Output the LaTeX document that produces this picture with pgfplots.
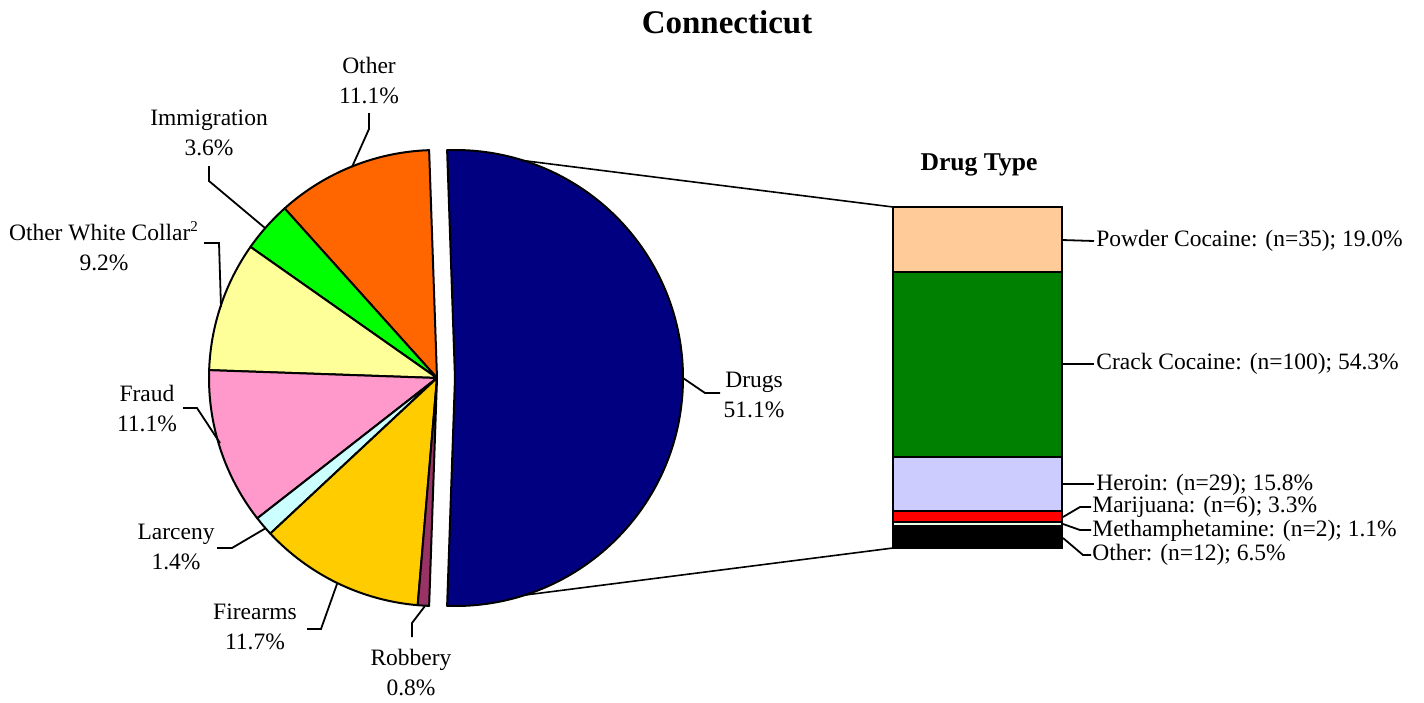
\documentclass[border=0pt]{standalone}
\usepackage{pgfplots}
\pgfplotsset{compat=1.18}
\usepackage{pgfplotstable}
\usepackage{fontspec}
\setmainfont{Liberation Serif}

\definecolor{cDrugs}{RGB}{0,0,128}
\definecolor{cOther}{RGB}{255,102,0}
\definecolor{cImm}{RGB}{0,255,0}
\definecolor{cOWC}{RGB}{255,255,153}
\definecolor{cFraud}{RGB}{255,153,204}
\definecolor{cLarc}{RGB}{204,255,255}
\definecolor{cFire}{RGB}{255,204,0}
\definecolor{cRob}{RGB}{153,51,102}
\definecolor{bPowder}{RGB}{255,204,153}
\definecolor{bCrack}{RGB}{0,128,0}
\definecolor{bHeroin}{RGB}{204,204,255}
\definecolor{bMarij}{RGB}{255,0,0}
\definecolor{bMeth}{RGB}{235,255,235}
\definecolor{bOther}{RGB}{0,0,0}

\pgfplotstableread{
value color
51.1 cDrugs
11.1 cOther
3.6 cImm
9.2 cOWC
11.1 cFraud
1.4 cLarc
11.7 cFire
0.8 cRob
}\pietable

\newcommand\lab{\fontsize{11.75}{15}\selectfont}

\begin{document}
\begin{tikzpicture}
\begin{axis}[name=main, at={(0,0)}, anchor=south west, x=0.5pt, y=0.5pt,
  xmin=0, xmax=1424, ymin=0, ymax=699, y dir=reverse,
  axis lines=none, clip=false]
\path (axis cs:0,0) rectangle (axis cs:1424,699);
% connector lines
\draw[line width=0.8pt] (axis cs:447,151) -- (axis cs:893,207);
\draw[line width=0.8pt] (axis cs:447,605) -- (axis cs:893,548);
% drugs slice (exploded)
\pgfplotstablegetelem{0}{value}\of\pietable
\pgfmathsetmacro\half{\pgfplotsretval*1.8}
\edef\tmp{\noexpand\filldraw[fill=cDrugs,draw=black,line width=1pt,line join=round]
  (axis cs:455,378) -- ([shift={(-\half:114pt)}]axis cs:455,378)
  arc[start angle=-\half, end angle=\half, radius=114pt] -- cycle;}\tmp
\xdef\cur{\half}
\pgfplotsforeachungrouped \i in {1,...,7}{%
  \pgfplotstablegetelem{\i}{value}\of\pietable \let\sliceval=\pgfplotsretval
  \pgfplotstablegetelem{\i}{color}\of\pietable \let\slicecol=\pgfplotsretval
  \pgfmathsetmacro\nxt{\cur+\sliceval*3.6}%
  \edef\tmp{\noexpand\filldraw[fill=\slicecol,draw=black,line width=1pt,line join=round]
    (axis cs:437,378) -- ([shift={(\cur:114pt)}]axis cs:437,378)
    arc[start angle=\cur, end angle=\nxt, radius=114pt] -- cycle;}\tmp
  \xdef\cur{\nxt}%
}
% leader lines
\draw[line width=0.9pt] (axis cs:369,113) -- (axis cs:369,129) -- (axis cs:352,167);
\draw[line width=0.9pt] (axis cs:209,166) -- (axis cs:209,181) -- (axis cs:265,228);
\draw[line width=0.9pt] (axis cs:204,243) -- (axis cs:219,243) -- (axis cs:221,307);
\draw[line width=0.9pt] (axis cs:183,408) -- (axis cs:197,408) -- (axis cs:220,443);
\draw[line width=0.9pt] (axis cs:217,548) -- (axis cs:232,548) -- (axis cs:266,528);
\draw[line width=0.9pt] (axis cs:307,629) -- (axis cs:321,629) -- (axis cs:337,584);
\draw[line width=0.9pt] (axis cs:412,637) -- (axis cs:412,623) -- (axis cs:425,606);
\draw[line width=0.9pt] (axis cs:683,378) -- (axis cs:705,393) -- (axis cs:720,393);
% bar leaders
\draw[line width=0.9pt] (axis cs:1062,240) -- (axis cs:1094,241);
\draw[line width=0.9pt] (axis cs:1062,364) -- (axis cs:1094,364);
\draw[line width=0.9pt] (axis cs:1062,484) -- (axis cs:1094,484);
\draw[line width=0.9pt] (axis cs:1063,517) -- (axis cs:1080,507) -- (axis cs:1091,507);
\draw[line width=0.9pt] (axis cs:1063,524) -- (axis cs:1080,530) -- (axis cs:1091,530);
\draw[line width=0.9pt] (axis cs:1063,538) -- (axis cs:1083,555) -- (axis cs:1091,555);
% pie labels
\node[align=center,font=\lab] at (axis cs:369,81) {Other\\11.1\%};
\node[align=center,font=\lab] at (axis cs:209,133) {Immigration\\3.6\%};
\node[align=center,font=\lab] at (axis cs:104,246) {Other White Collar\textsuperscript{\fontsize{7.5}{8}\selectfont 2}\\9.2\%};
\node[align=center,font=\lab] at (axis cs:147,409) {Fraud\\11.1\%};
\node[align=center,font=\lab] at (axis cs:176,547) {Larceny\\1.4\%};
\node[align=center,font=\lab] at (axis cs:255,627) {Firearms\\11.7\%};
\node[align=center,font=\lab] at (axis cs:411,673) {Robbery\\0.8\%};
\node[align=center,font=\lab] at (axis cs:754,395) {Drugs\\51.1\%};
% bar labels
\node[anchor=west,inner sep=0pt,font=\lab] at (axis cs:1096,241) {Powder Cocaine: (n=35); 19.0\%};
\node[anchor=west,inner sep=0pt,font=\lab] at (axis cs:1096,364) {Crack Cocaine: (n=100); 54.3\%};
\node[anchor=west,inner sep=0pt,font=\lab] at (axis cs:1096,485) {Heroin: (n=29); 15.8\%};
\node[anchor=west,inner sep=0pt,font=\lab] at (axis cs:1092,507) {Marijuana: (n=6); 3.3\%};
\node[anchor=west,inner sep=0pt,font=\lab] at (axis cs:1092,531) {Methamphetamine: (n=2); 1.1\%};
\node[anchor=west,inner sep=0pt,font=\lab] at (axis cs:1092,555) {Other: (n=12); 6.5\%};
% titles
\node[font=\fontsize{16.5}{18}\selectfont\bfseries] at (axis cs:727,22) {Connecticut};
\node[font=\fontsize{12.8}{14}\selectfont\bfseries] at (axis cs:979,165) {Drug Type};
\end{axis}
\begin{axis}[at={(446.5pt,75.5pt)}, anchor=south west, scale only axis,
  width=84.5pt, height=170.5pt, xmin=0, xmax=1, ymin=0, ymax=100,
  ybar stacked, bar width=84.5pt, axis lines=none, enlargelimits=false, clip=false]
\addplot[fill=bOther, draw=black, line width=1pt] coordinates {(0.5,6.5)};
\addplot[fill=bMeth, draw=black, line width=1pt] coordinates {(0.5,1.1)};
\addplot[fill=bMarij, draw=black, line width=1pt] coordinates {(0.5,3.3)};
\addplot[fill=bHeroin, draw=black, line width=1pt] coordinates {(0.5,15.8)};
\addplot[fill=bCrack, draw=black, line width=1pt] coordinates {(0.5,54.3)};
\addplot[fill=bPowder, draw=black, line width=1pt] coordinates {(0.5,19.0)};
\end{axis}
\end{tikzpicture}
\end{document}
